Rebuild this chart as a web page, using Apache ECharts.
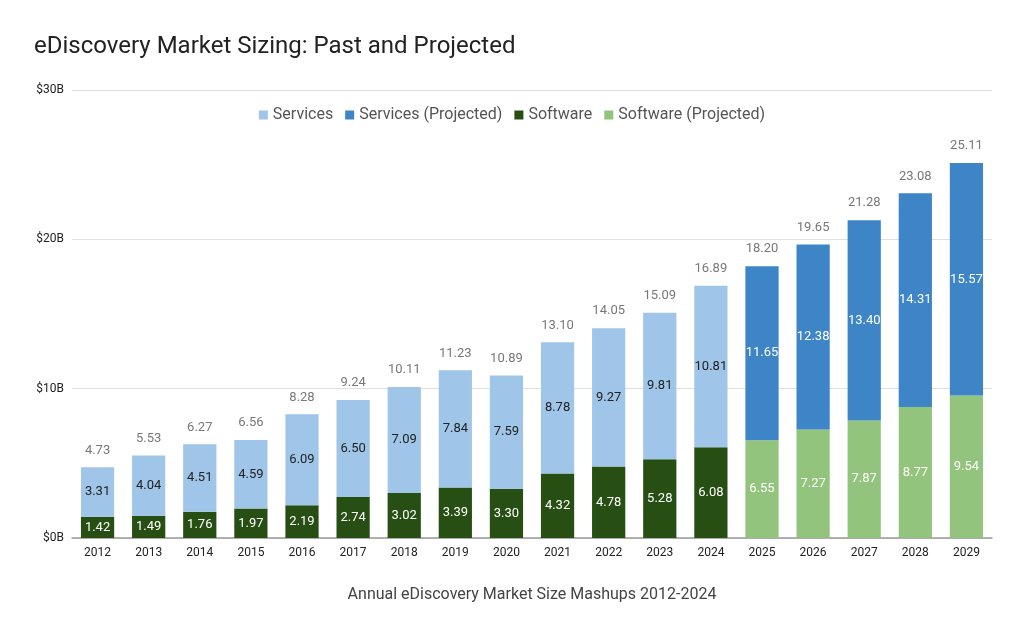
<!DOCTYPE html>
<html><head><meta charset="utf-8">
<script src="https://cdn.jsdelivr.net/npm/echarts@6/dist/echarts.min.js"></script>
<style>html,body{margin:0;padding:0;background:#fff}#c{width:1024px;height:632px}</style>
</head><body><div id="c"></div>
<script>
var years = ['2012','2013','2014','2015','2016','2017','2018','2019','2020','2021','2022','2023','2024','2025','2026','2027','2028','2029'];
var software = [1.42,1.49,1.76,1.97,2.19,2.74,3.02,3.39,3.30,4.32,4.78,5.28,6.08,null,null,null,null,null];
var services = [3.31,4.04,4.51,4.59,6.09,6.50,7.09,7.84,7.59,8.78,9.27,9.81,10.81,null,null,null,null,null];
var softwareProj = [null,null,null,null,null,null,null,null,null,null,null,null,null,6.55,7.27,7.87,8.77,9.54];
var servicesProj = [null,null,null,null,null,null,null,null,null,null,null,null,null,11.65,12.38,13.40,14.31,15.57];
var totals = [4.73,5.53,6.27,6.56,8.28,9.24,10.11,11.23,10.89,13.10,14.05,15.09,16.89,18.20,19.65,21.28,23.08,25.11];
var yTicks = ['$0B','$10B','$20B','$30B'];

var chart = echarts.init(document.getElementById('c'));
var fmt = function(p){ return p.value == null ? '' : p.value.toFixed(2); };
function barSeries(name, data, color, labelColor){
  return {name:name, type:'bar', stack:'t', data:data, barWidth:'65%',
    itemStyle:{color:color},
    label:{show:true, position:'inside', color:labelColor, fontSize:13, fontFamily:'Roboto', formatter:fmt}};
}
chart.setOption({
  animation:false,
  title:{text:'eDiscovery Market Sizing: Past and Projected', left:29, top:30,
    textStyle:{fontFamily:'Roboto', fontSize:24, fontWeight:'normal', color:'#222'}},
  legend:{data:['Services','Services (Projected)','Software','Software (Projected)'],
    top:102, left:'center', itemWidth:9, itemHeight:9, itemGap:12, icon:'rect',
    textStyle:{fontFamily:'Roboto', fontSize:16, color:'#555'}},
  grid:{left:72, right:32, top:90, bottom:94},
  xAxis:{type:'category', data:years,
    axisLine:{lineStyle:{color:'#999', width:1.5}}, axisTick:{show:false},
    axisLabel:{fontFamily:'Roboto', fontSize:12, color:'#222', margin:9},
    name:'Annual eDiscovery Market Size Mashups 2012-2024', nameLocation:'middle', nameGap:49,
    nameTextStyle:{fontFamily:'Roboto', fontSize:16, color:'#444'}},
  yAxis:{type:'value', min:0, max:30, interval:10,
    axisLine:{show:false}, axisTick:{show:false},
    splitLine:{lineStyle:{color:'#e0e0e0'}},
    axisLabel:{fontFamily:'Roboto', fontSize:12, color:'#222', margin:8,
      formatter:function(v){ return yTicks[v/10]; }}},
  series:[
    barSeries('Software', software, '#274e13', '#ffffff'),
    barSeries('Software (Projected)', softwareProj, '#93c47d', '#ffffff'),
    barSeries('Services', services, '#9fc5e8', '#222222'),
    barSeries('Services (Projected)', servicesProj, '#3d85c6', '#ffffff'),
    {name:'Total', type:'scatter', data:totals, symbolSize:1, silent:true, z:10,
      itemStyle:{color:'rgba(0,0,0,0)'},
      label:{show:true, position:'top', distance:10, color:'#555', fontSize:13, fontFamily:'Roboto',
        formatter:function(p){ return p.value.toFixed(2); }}}
  ]
});
</script></body></html>
